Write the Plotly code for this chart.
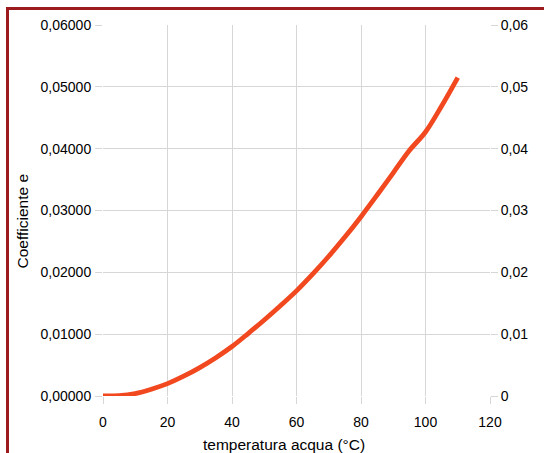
import plotly.graph_objects as go

temperatura = [0, 5, 10, 15, 20, 25, 30, 35, 40, 45, 50, 55, 60, 65, 70, 75, 80, 85, 90, 95, 100, 105, 110]
coefficiente = [0.0000, 0.00005, 0.0004, 0.0011, 0.0020, 0.0032, 0.0046, 0.0062, 0.0080, 0.0101,
                0.0123, 0.0146, 0.0170, 0.0197, 0.0226, 0.0257, 0.0290, 0.0325, 0.0361, 0.0397,
                0.0427, 0.0469, 0.0515]
x_ticks = [0, 20, 40, 60, 80, 100, 120]
y_ticks = [0, 0.01, 0.02, 0.03, 0.04, 0.05, 0.06]
x_title = "temperatura acqua (°C)"
y_title = "Coefficiente e"

FONT = "Liberation Sans, Arial, sans-serif"
GRID = "#d6d6d6"
LINE = "#f2481f"

fig = go.Figure()
fig.add_trace(go.Scatter(x=temperatura, y=coefficiente, mode="lines",
                         line=dict(color=LINE, width=4.8, shape="spline", smoothing=1.0),
                         showlegend=False))
fig.add_trace(go.Scatter(x=temperatura, y=coefficiente, mode="lines", yaxis="y2",
                         line=dict(color="rgba(0,0,0,0)", width=0), showlegend=False,
                         hoverinfo="skip"))

fig.update_layout(
    width=544, height=453,
    margin=dict(l=103, r=54, t=25, b=57),
    paper_bgcolor="white", plot_bgcolor="white",
    separators=",.",
    font=dict(family=FONT, size=14, color="#000000"),
    xaxis=dict(range=[0, 120], tickvals=x_ticks, showgrid=True, gridcolor=GRID, gridwidth=1,
               zeroline=False, showline=False, ticks="outside", ticklen=7, tickcolor=GRID,
               tickfont=dict(size=14), ticklabelstandoff=6, automargin=False),
    yaxis=dict(range=[0, 0.06], tickvals=y_ticks, tickformat=".5f", showgrid=True,
               gridcolor=GRID, gridwidth=1, zeroline=False, showline=False, ticks="outside",
               ticklen=7, tickcolor=GRID, tickfont=dict(size=14), ticklabelstandoff=1,
               automargin=False),
    yaxis2=dict(range=[0, 0.06], tickvals=y_ticks, overlaying="y", side="right",
                showgrid=False, zeroline=False, showline=False, ticks="outside", ticklen=7,
                tickcolor=GRID, tickfont=dict(size=14), ticklabelstandoff=0, automargin=False),
    annotations=[
        dict(text=x_title, xref="paper", yref="paper", x=(284 - 103) / 387,
             y=(396 - 444) / 371, xanchor="center", yanchor="middle", showarrow=False,
             font=dict(size=15.5)),
        dict(text=y_title, xref="paper", yref="paper", x=(21.5 - 103) / 387,
             y=(396 - 221) / 371, xanchor="center", yanchor="middle", showarrow=False,
             textangle=-90, font=dict(size=15.5)),
    ],
    shapes=[dict(type="rect", xref="paper", yref="paper",
                 x0=(7.5 - 103) / 387, x1=1.5, y0=-0.5, y1=(396 - 8.5) / 371,
                 line=dict(color="#9b1b1e", width=3), fillcolor="rgba(0,0,0,0)", layer="below")],
)

fig.write_html("out.html", config={"displayModeBar": False},
               post_script="document.body.style.margin='0';")
